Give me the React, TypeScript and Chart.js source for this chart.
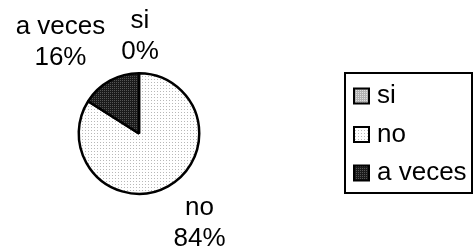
import React, { useEffect, useRef } from "react";
import { Chart, registerables } from "chart.js";

Chart.register(...registerables);

const categories = ["si", "no", "a veces"];
const values = [0, 84, 16];
const percentLabels = ["0%", "84%", "16%"];

// style only
const labelNudges: [number, number][] = [
  [1, 0],
  [17, 18],
  [-35, -5],
];
const LABEL_RADIUS_FACTOR = 1.5;
const LINE_GAP = 31;
const FONT = "Liberation Sans, Arial, sans-serif";

function makePattern(bg: string, dot: string, size: number, dots: [number, number][]) {
  const c = document.createElement("canvas");
  c.width = size;
  c.height = size;
  const g = c.getContext("2d")!;
  g.fillStyle = bg;
  g.fillRect(0, 0, size, size);
  g.fillStyle = dot;
  dots.forEach(([x, y]) => g.fillRect(x, y, 1, 1));
  return g.createPattern(c, "repeat")!;
}

const labelsPlugin = {
  id: "outsideLabels",
  afterDatasetsDraw(chart: any) {
    const ctx = chart.ctx;
    const meta = chart.getDatasetMeta(0);
    ctx.save();
    ctx.font = `26px ${FONT}`;
    ctx.fillStyle = "#000";
    ctx.textAlign = "center";
    ctx.textBaseline = "alphabetic";
    meta.data.forEach((arc: any, i: number) => {
      const p = arc.getProps(["x", "y", "startAngle", "endAngle", "outerRadius"], true);
      const mid = (p.startAngle + p.endAngle) / 2;
      const R = p.outerRadius * LABEL_RADIUS_FACTOR;
      const cx = p.x + Math.cos(mid) * R + labelNudges[i][0];
      const cy = p.y + Math.sin(mid) * R + labelNudges[i][1];
      ctx.fillText(categories[i], cx, cy - LINE_GAP / 2);
      ctx.fillText(percentLabels[i], cx, cy + LINE_GAP / 2);
    });
    ctx.restore();
  },
};

const legendPlugin = {
  id: "boxLegend",
  afterDraw(chart: any) {
    const ctx = chart.ctx;
    const bg = chart.data.datasets[0].legendColors;
    const x = 345;
    const y = 73;
    const w = 127;
    const h = 120;
    const rowH = 38.5;
    ctx.save();
    ctx.strokeStyle = "#000";
    ctx.lineWidth = 2;
    ctx.strokeRect(x, y, w, h);
    ctx.font = `26px ${FONT}`;
    ctx.textBaseline = "alphabetic";
    ctx.textAlign = "left";
    chart.data.labels.forEach((lab: string, i: number) => {
      const cy = y + 23 + i * rowH;
      ctx.fillStyle = bg[i];
      ctx.fillRect(x + 9, cy - 7.5, 15, 15);
      ctx.lineWidth = 2;
      ctx.strokeRect(x + 9, cy - 7.5, 15, 15);
      ctx.fillStyle = "#000";
      ctx.fillText(lab, x + 32, cy + 7);
    });
    ctx.restore();
  },
};

export default function App() {
  const ref = useRef<HTMLCanvasElement>(null);
  useEffect(() => {
    document.body.style.margin = "0";
    const siPat = makePattern("#b0b0b0", "#e0e0e0", 2, [[0, 0]]);
    const noPat = makePattern("#ffffff", "#b8b8b8", 3, [[1, 1]]);
    const avPat = makePattern("#1a1a1a", "#555555", 2, [[0, 0]]);
    const colors = [siPat, noPat, avPat];
    const chart = new Chart(ref.current!, {
      type: "pie",
      data: {
        labels: categories,
        datasets: [
          {
            data: values,
            backgroundColor: colors as any,
            legendColors: colors,
            borderColor: "#000",
            borderWidth: 2.5,
          } as any,
        ],
      },
      options: {
        responsive: false,
        animation: false,
        layout: { padding: { left: 77, right: 273, top: 72, bottom: 57 } },
        plugins: {
          legend: { display: false },
          tooltip: { enabled: false },
        },
      },
      plugins: [labelsPlugin, legendPlugin],
    });
    return () => chart.destroy();
  }, []);
  return (
    <div style={{ width: 474, height: 252, background: "#fff" }}>
      <canvas ref={ref} width={474} height={252} />
    </div>
  );
}
